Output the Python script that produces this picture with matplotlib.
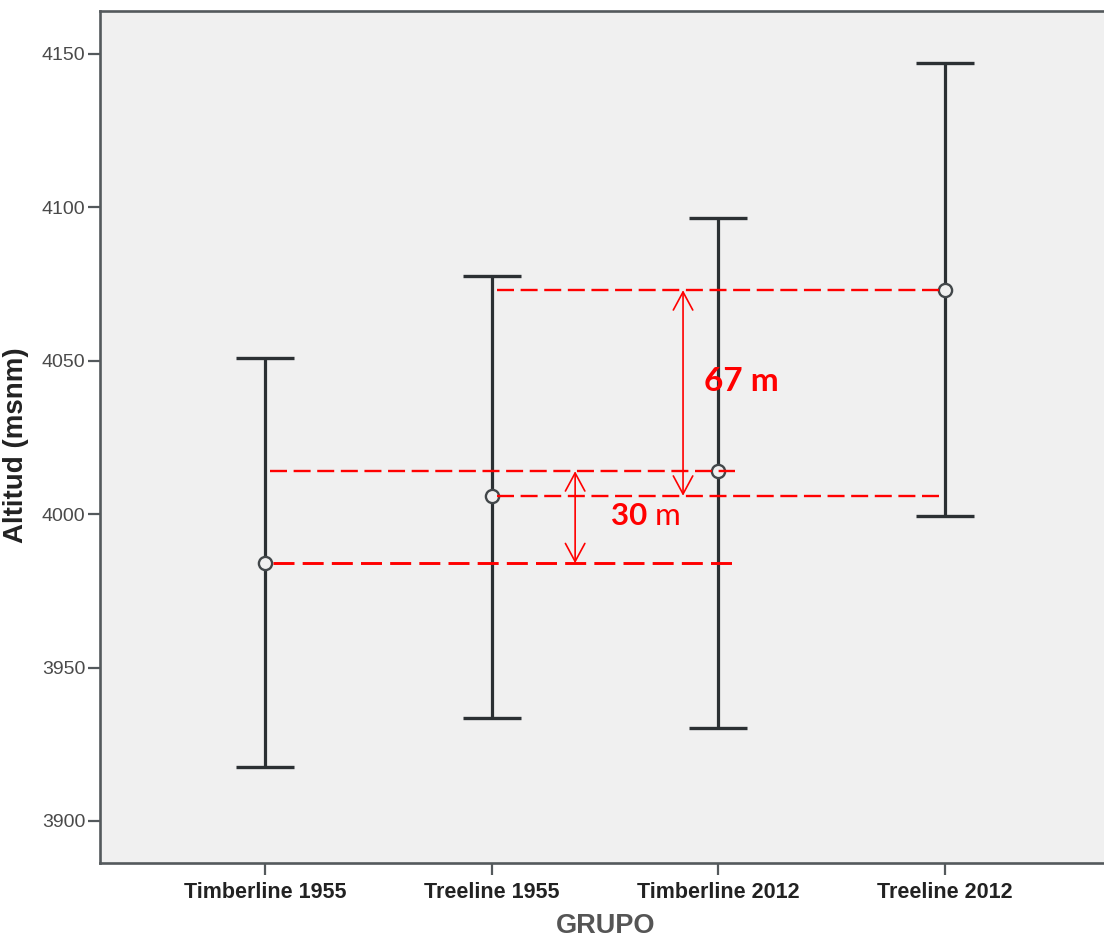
import matplotlib
matplotlib.use("Agg")
import matplotlib.pyplot as plt
from matplotlib import font_manager
from matplotlib.patches import FancyArrowPatch

# Group means with lower / upper ends of the intervals (m a.s.l.)
groups = ["Timberline 1955", "Treeline 1955", "Timberline 2012", "Treeline 2012"]
means = [3984, 4006, 4014, 4073]
lower = [3917.6, 3933.6, 3930.3, 3999.4]
upper = [4050.9, 4077.6, 4096.5, 4147.1]
yticks = [3900, 3950, 4000, 4050, 4100, 4150]

installed = {f.name for f in font_manager.fontManager.ttflist}
narrow = "Liberation Sans Narrow" in installed
base = "Liberation Sans" if "Liberation Sans" in installed else "DejaVu Sans"
cond = "Liberation Sans Narrow" if narrow else base
red_font = "Lato" if "Lato" in installed else base

ytick_size = 16 if narrow else 14
xtick_size = 18 if narrow else 15.5
xlabel_size = 23 if narrow else 19.5

fig = plt.figure(figsize=(11.04, 9.4), dpi=100)
ax = fig.add_axes([100 / 1104, 77 / 940, 1004 / 1104, 852 / 940])
ax.set_facecolor("#f0f0f0")
ax.set_xlim(-0.728, 3.701)
ax.set_ylim(3886.3, 4164.0)

x = list(range(len(groups)))
err_lo = [m - lo for m, lo in zip(means, lower)]
err_hi = [hi - m for m, hi in zip(means, upper)]
ax.errorbar(x, means, yerr=[err_lo, err_hi], fmt="none", ecolor="#2b3033",
            elinewidth=2.3, capsize=21, capthick=2.4, zorder=2)
ax.plot(x, means, linestyle="none", marker="o", markersize=9.5,
        markerfacecolor="#f0f0f0", markeredgecolor="#42474a",
        markeredgewidth=1.7, zorder=3)

# Reference lines between group means
red = "#ff0000"
dash = (0, (7.2, 2.8))
ax.plot([1.024, 3.0], [means[3], means[3]], color=red, lw=1.7, ls=dash, zorder=4)
ax.plot([1.024, 3.0], [means[1], means[1]], color=red, lw=1.7, ls=dash, zorder=4)
ax.plot([0.022, 2.073], [means[2], means[2]], color=red, lw=1.7, ls=dash, zorder=4)
ax.plot([0.035, 2.073], [means[0], means[0]], color=red, lw=2.1, ls=dash, zorder=4)

# Double-headed arrows showing the shifts
for xa, y0, y1 in [(1.844, means[3], means[1]), (1.368, means[2], means[0])]:
    arr = FancyArrowPatch((xa, y0), (xa, y1),
                          arrowstyle="<->,head_length=13,head_width=7",
                          color=red, lw=1.2, shrinkA=0, shrinkB=0, zorder=5)
    ax.add_patch(arr)

shift_tree = means[3] - means[1]
shift_timber = means[2] - means[0]
ax.text(1.937, 4040, f"{shift_tree} m", color=red, fontsize=24,
        fontweight="bold", family=red_font, va="baseline", ha="left", zorder=6)
t30 = ax.text(1.527, 3996.5, f"{shift_timber}", color=red, fontsize=22.5,
              fontweight="bold", family=red_font, va="baseline", ha="left", zorder=6)
ax.annotate(" m", xy=(1, 0), xycoords=t30, va="bottom", ha="left",
            color=red, fontsize=22.5, family=red_font, zorder=6)

# Axes styling
for side in ["left", "top", "bottom"]:
    ax.spines[side].set_color("#54595c")
    ax.spines[side].set_linewidth(1.9)
ax.spines["right"].set_visible(False)

ax.set_yticks(yticks)
ax.set_yticklabels([str(v) for v in yticks], family=cond, fontsize=ytick_size,
                   color="#4a4a4a")
ax.set_xticks(x)
ax.set_xticklabels(groups, family=cond, fontsize=xtick_size, fontweight="bold",
                   color="#222222")
ax.tick_params(axis="y", length=8.6, width=1.6, color="#54595c", pad=2)
ax.tick_params(axis="x", length=8.6, width=1.6, color="#54595c", pad=5)

ax.set_ylabel("Altitud (msnm)", family=base, fontsize=20, fontweight="bold",
              color="#222222")
ax.yaxis.set_label_coords(-0.0707, 0.49)

fig.text(606 / 1104, 7 / 940, "GRUPO", family=cond, fontsize=xlabel_size,
         fontweight="bold", color="#555555", ha="center", va="baseline")

fig.savefig("out.png", dpi=100)
